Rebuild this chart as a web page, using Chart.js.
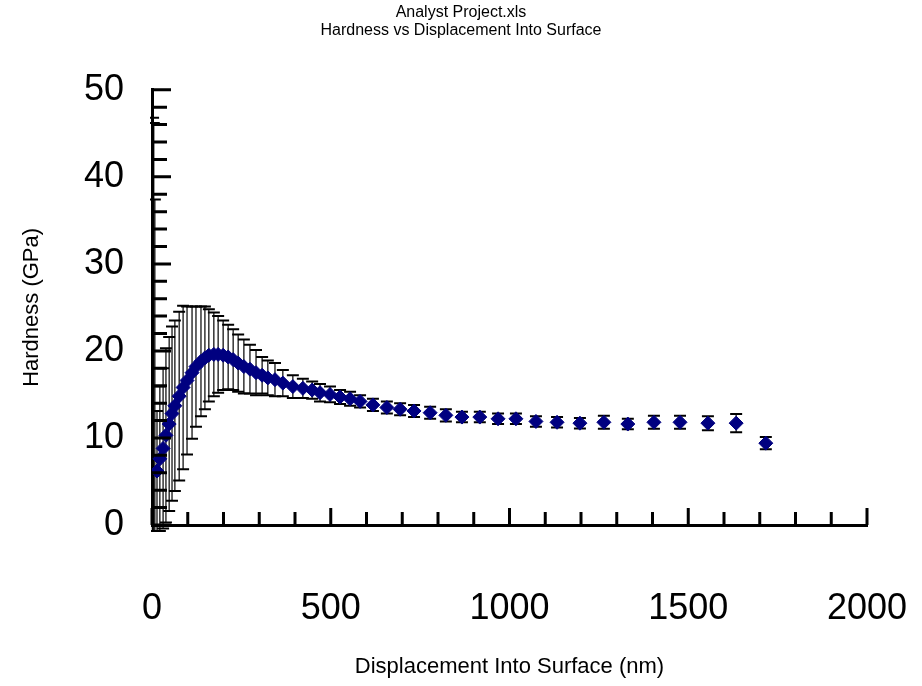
<!DOCTYPE html>
<html>
<head>
<meta charset="utf-8">
<script src="https://cdn.jsdelivr.net/npm/chart.js@4.4.1/dist/chart.umd.min.js"></script>
<style>
  html, body { margin: 0; padding: 0; background: #fff; }
</style>
</head>
<body>
<canvas id="chart" width="922" height="686"></canvas>
<script>
// displacement (nm), hardness (GPa) and its error
const displacement = [1, 3, 5, 8, 14, 22, 31, 39, 48, 56, 64, 76, 87, 98, 112, 123, 137, 148, 159, 173,
    185, 199, 213, 227, 241, 257, 274, 291, 308, 324, 344, 366, 394, 422, 448, 470, 498, 526, 554, 582,
    618, 657, 694, 733, 778, 822, 867, 917, 968, 1018, 1074, 1133, 1197, 1264, 1331, 1404, 1477, 1555, 1634, 1717];
const hardness = [-10, -6, -5, -4, 6.2, 7.6, 8.8, 10.3, 11.6, 12.8, 13.7, 14.8, 15.8, 16.6, 17.5, 18.2, 18.8, 19.2, 19.5, 19.6,
    19.6, 19.5, 19.3, 19.0, 18.6, 18.2, 17.9, 17.5, 17.2, 16.9, 16.7, 16.3, 15.9, 15.7, 15.5, 15.2, 15.0, 14.7, 14.5, 14.2,
    13.8, 13.5, 13.3, 13.1, 12.9, 12.6, 12.4, 12.4, 12.2, 12.2, 11.9, 11.8, 11.7, 11.8, 11.6, 11.8, 11.8, 11.7, 11.7, 9.4];
const hardnessErr = [62, 52.8, 51.2, 41.4, 6.9, 8.3, 9.2, 10.0, 10.0, 10.0, 9.8, 9.7, 9.4, 8.5, 7.6, 6.9, 6.3, 5.9, 5.3, 4.8,
    4.4, 4.0, 3.7, 3.5, 3.3, 3.1, 2.8, 2.6, 2.1, 2.0, 1.9, 1.5, 1.3, 1.1, 1.0, 1.0, 0.9, 0.8, 0.8, 0.7,
    0.7, 0.7, 0.7, 0.7, 0.7, 0.7, 0.6, 0.6, 0.6, 0.6, 0.6, 0.6, 0.6, 0.75, 0.6, 0.75, 0.75, 0.8, 1.05, 0.7];

const xTicks = [0, 500, 1000, 1500, 2000];
const yTicks = [0, 10, 20, 30, 40, 50];
const titleLines = ['Analyst Project.xls', 'Hardness vs Displacement Into Surface'];

const FONT = '"Liberation Sans", Arial, sans-serif';

// error bars behind the diamonds
const errorBars = {
    id: 'errorBars',
    beforeDatasetsDraw(chart) {
        const { ctx, chartArea: a, scales: { x, y } } = chart;
        ctx.save();
        ctx.beginPath();
        ctx.rect(a.left - 2, a.top, a.right - a.left + 4, a.bottom - a.top + 7);
        ctx.clip();
        ctx.strokeStyle = '#000';
        displacement.forEach((d, i) => {
            const px = x.getPixelForValue(d);
            const top = y.getPixelForValue(hardness[i] + hardnessErr[i]);
            const bot = y.getPixelForValue(hardness[i] - hardnessErr[i]);
            ctx.lineWidth = 1.2;
            ctx.beginPath();
            ctx.moveTo(px, top); ctx.lineTo(px, bot);
            ctx.stroke();
            ctx.lineWidth = 2;
            ctx.beginPath();
            ctx.moveTo(px - 6, top); ctx.lineTo(px + 6, top);
            ctx.moveTo(px - 6, bot); ctx.lineTo(px + 6, bot);
            ctx.stroke();
        });
        ctx.restore();
    }
};

// inward tick marks, like the original
const innerTicks = {
    id: 'innerTicks',
    afterDraw(chart) {
        const { ctx, chartArea: a, scales: { x, y } } = chart;
        ctx.save();
        ctx.strokeStyle = '#000';
        ctx.lineWidth = 3;
        ctx.beginPath();
        for (let v = 0; v <= 2000; v += 100) {
            const px = x.getPixelForValue(v);
            const len = v % 500 === 0 ? 17 : 13;
            ctx.moveTo(px, a.bottom); ctx.lineTo(px, a.bottom - len);
        }
        for (let v = 0; v <= 50; v += 2) {
            const py = y.getPixelForValue(v);
            const len = v % 10 === 0 ? 19 : 15;
            ctx.moveTo(a.left, py); ctx.lineTo(a.left + len, py);
        }
        ctx.stroke();
        ctx.restore();
    }
};

new Chart(document.getElementById('chart'), {
    type: 'scatter',
    data: {
        datasets: [{
            data: displacement.map((d, i) => ({ x: d, y: hardness[i] })),
            pointStyle: 'rectRot',
            pointRadius: 7,
            pointBackgroundColor: '#000080',
            pointBorderColor: '#000080',
            pointBorderWidth: 1,
            showLine: false,
            clip: 0
        }]
    },
    options: {
        responsive: false,
        animation: false,
        layout: { padding: 0 },
        plugins: {
            legend: { display: false },
            tooltip: { enabled: false },
            title: {
                display: true,
                text: titleLines,
                color: '#000',
                font: { family: FONT, size: 16, weight: 'normal', lineHeight: 1.15 },
                padding: { top: 3, bottom: 50 }
            }
        },
        scales: {
            x: {
                type: 'linear',
                min: 0, max: 2000,
                afterBuildTicks: s => { s.ticks = xTicks.map(v => ({ value: v })); },
                afterFit: s => { s.height = 161; s.paddingLeft = 0; s.paddingRight = 55; },
                grid: { display: false, drawTicks: false },
                border: { display: true, color: '#000', width: 3 },
                ticks: {
                    color: '#000',
                    padding: 62,
                    maxRotation: 0,
                    callback: v => String(v),
                    font: { family: FONT, size: 36 }
                },
                title: {
                    display: true,
                    text: 'Displacement Into Surface (nm)',
                    color: '#000',
                    font: { family: FONT, size: 22 },
                    padding: { top: 0, bottom: 6 }
                }
            },
            y: {
                type: 'linear',
                min: 0, max: 50,
                afterBuildTicks: s => { s.ticks = yTicks.map(v => ({ value: v })); },
                afterFit: s => { s.width = 152; },
                grid: { display: false, drawTicks: false },
                border: { display: true, color: '#000', width: 3 },
                ticks: {
                    color: '#000',
                    padding: 28,
                    callback: v => String(v),
                    font: { family: FONT, size: 36 }
                },
                title: {
                    display: true,
                    text: 'Hardness (GPa)',
                    color: '#000',
                    font: { family: FONT, size: 22 },
                    padding: { top: 19, bottom: 0 }
                }
            }
        }
    },
    plugins: [errorBars, innerTicks]
});
</script>
</body>
</html>
